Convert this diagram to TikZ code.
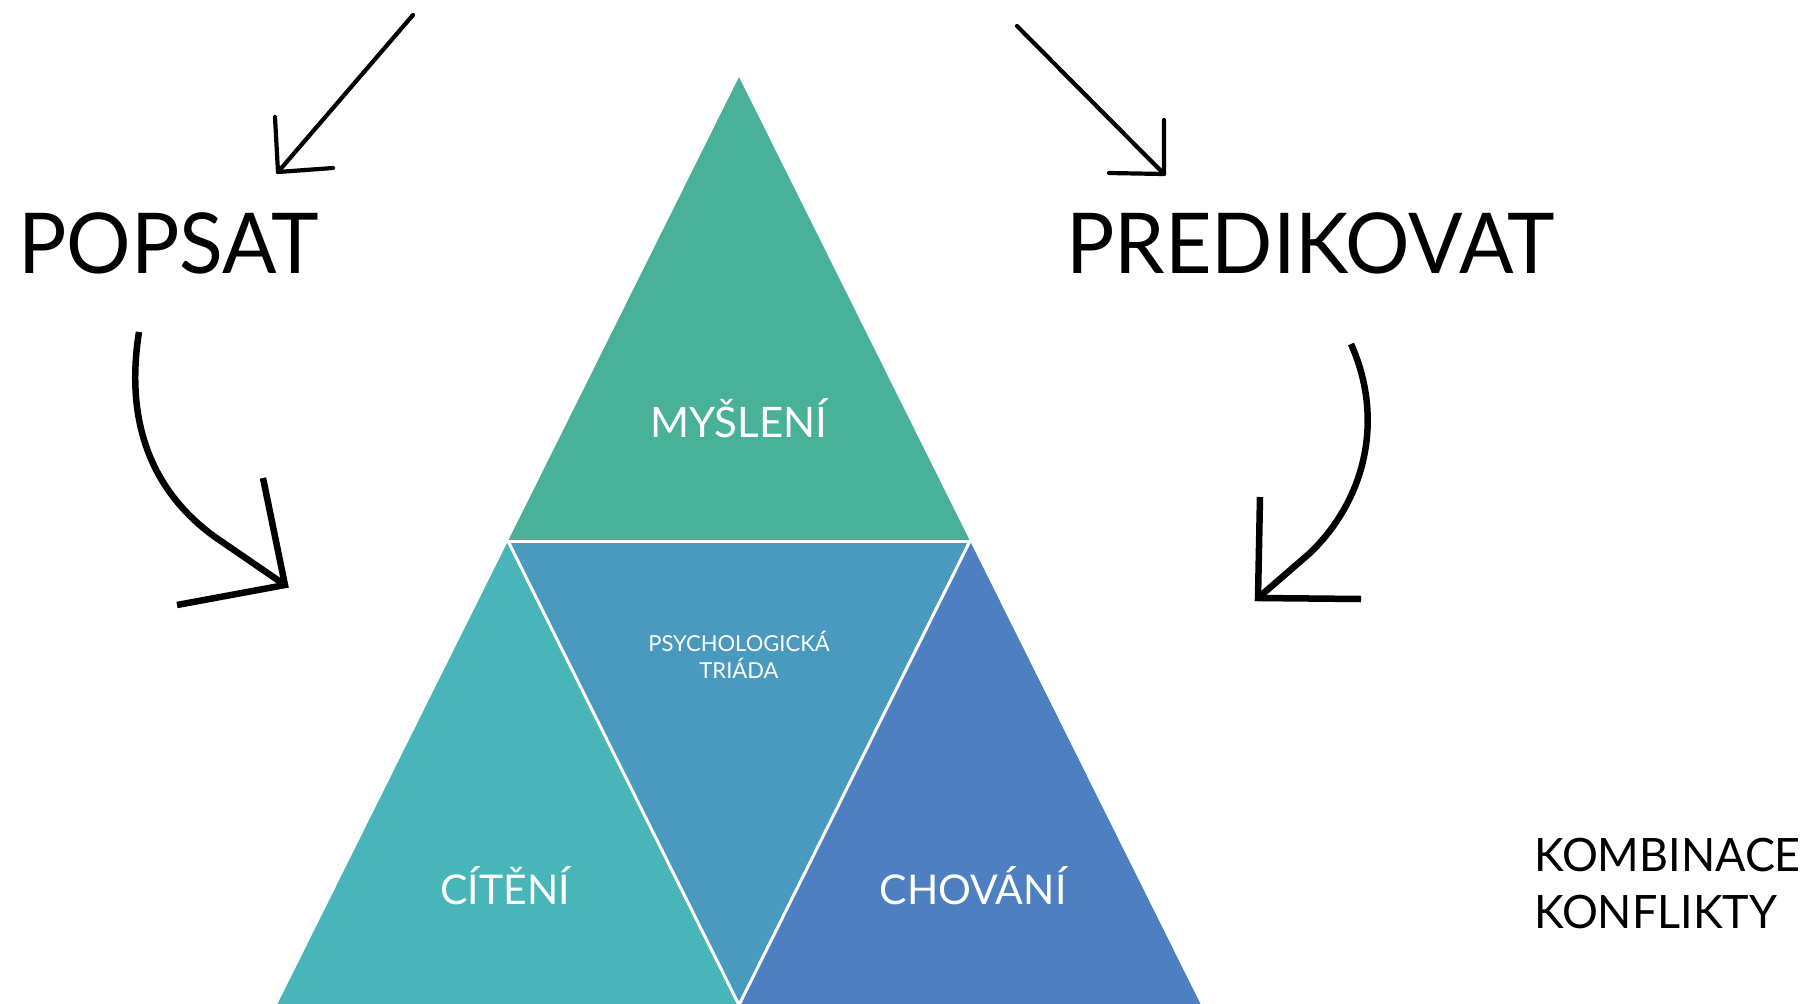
\documentclass[tikz,border=0pt]{standalone}
\usepackage{fontspec}
\setmainfont{Lato}
\definecolor{cthink}{HTML}{49B198}
\definecolor{cfeel}{HTML}{48B6B8}
\definecolor{ctriad}{HTML}{4A99BE}
\definecolor{cbehave}{HTML}{4E80C1}
\begin{document}
\begin{tikzpicture}[x=1pt,y=-1pt,
  thinarrow/.style={line width=4.2pt, line cap=round, line join=round},
  thickarrow/.style={line width=6.5pt, line cap=butt, line join=miter},
  sep/.style={white, line width=3pt},
  inlabel/.style={text=white, inner sep=0pt},
  bigword/.style={inner sep=0pt, anchor=base west, xscale=0.96, font=\fontsize{84}{90}\selectfont},
  sideword/.style={inner sep=0pt, anchor=base west, xscale=0.975, font=\fontsize{46}{52}\selectfont}]
\useasboundingbox (0,0) rectangle (1808,1004);
% triangle geometry
\coordinate (A) at (739,77);
\coordinate (L) at (508,541);
\coordinate (R) at (970,541);
\coordinate (BL) at (277,1005);
\coordinate (BM) at (739,1005);
\coordinate (BR) at (1201,1005);
\begin{scope}
\clip (0,0) rectangle (1808,1004);
\fill[cthink] (A) -- (L) -- (R) -- cycle;
\fill[cfeel] (L) -- (BL) -- (BM) -- cycle;
\fill[ctriad] (L) -- (R) -- (BM) -- cycle;
\fill[cbehave] (R) -- (BM) -- (BR) -- cycle;
\draw[sep] (L) -- (R);
\draw[sep] (L) -- (BM) -- (R);
\end{scope}
% labels in triangles
\node[inlabel, anchor=base, font=\fontsize{42}{46}\selectfont] (think) at (739,437) {MYŠLENÍ};
\node[inlabel, anchor=base, font=\fontsize{41}{46}\selectfont] (feel) at (505,904) {CÍTĚNÍ};
\node[inlabel, anchor=base, font=\fontsize{41}{46}\selectfont] (behave) at (973,904) {CHOVÁNÍ};
\node[inlabel, anchor=base, font=\fontsize{22}{26}\selectfont] (triad1) at (739,651) {PSYCHOLOGICKÁ};
\node[inlabel, anchor=base, font=\fontsize{22}{26}\selectfont] (triad2) at (739,678) {TRIÁDA};
% big words
\node[bigword] (describe) at (18,273) {POPSAT};
\node[bigword] (predict) at (1066,273) {PREDIKOVAT};
\node[sideword] (comb) at (1534,871) {KOMBINACE};
\node[sideword] (conf) at (1534,928) {KONFLIKTY};
% arrow 1
\coordinate (a1s) at (413,15);
\coordinate (a1t) at (278,172);
\coordinate (a1l) at (275,117);
\coordinate (a1r) at (333,168);
\draw[thinarrow] (a1s) -- (a1t);
\draw[thinarrow] (a1l) -- (a1t) -- (a1r);
% arrow 2
\coordinate (a2s) at (1017,26);
\coordinate (a2t) at (1164,174);
\coordinate (a2u) at (1164,120);
\coordinate (a2l) at (1109,173);
\draw[thinarrow] (a2s) -- (a2t);
\draw[thinarrow] (a2u) -- (a2t) -- (a2l);
% arrow 3 (curved, left)
\coordinate (a3s) at (139,332);
\coordinate (a3m) at (215,537);
\coordinate (a3t) at (285,585);
\coordinate (a3u) at (263,478);
\coordinate (a3l) at (177,605);
\draw[thickarrow] (a3s) .. controls (125,420) and (150,490) .. (a3m) -- (a3t);
\draw[thickarrow] (a3u) -- (a3t) -- (a3l);
% arrow 4 (curved, right)
\coordinate (a4s) at (1351,344);
\coordinate (a4m) at (1310,553);
\coordinate (a4t) at (1258,598);
\coordinate (a4u) at (1260,497);
\coordinate (a4r) at (1361,599);
\draw[thickarrow] (a4s) .. controls (1385,420) and (1365,500) .. (a4m) -- (a4t);
\draw[thickarrow] (a4u) -- (a4t) -- (a4r);
\end{tikzpicture}
\end{document}
